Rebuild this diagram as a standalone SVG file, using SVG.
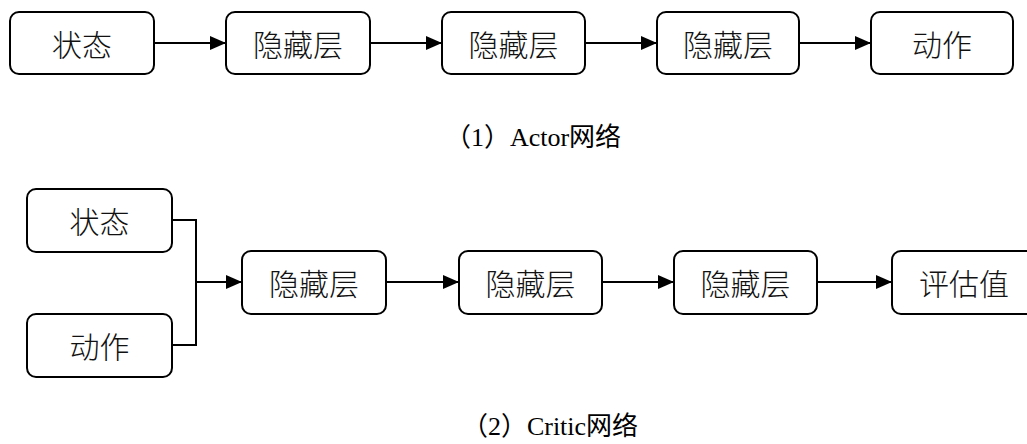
<svg xmlns="http://www.w3.org/2000/svg" width="1027" height="444" viewBox="0 0 1027 444">
<style>
.box{fill:#fff;stroke:#000;stroke-width:2}
.lbl{font-family:"Noto Sans CJK SC",sans-serif;font-size:30px;font-weight:300;fill:#111;text-anchor:middle;dominant-baseline:central}
.cap{font-family:"Liberation Serif","Noto Sans CJK SC",serif;font-size:26px;fill:#000;text-anchor:middle}
.ln{fill:none;stroke:#000;stroke-width:2}
</style>
<defs>
<marker id="ah" markerWidth="16" markerHeight="14" refX="16" refY="7" orient="auto" markerUnits="userSpaceOnUse">
<path d="M0,0 L16,7 L0,14 Z" fill="#000"/>
</marker>
</defs>
<rect width="1027" height="444" fill="#fff"/>
<g id="connectors">
<line class="ln" x1="154" y1="43" x2="226" y2="43" marker-end="url(#ah)"/>
<line class="ln" x1="370" y1="43" x2="442" y2="43" marker-end="url(#ah)"/>
<line class="ln" x1="585" y1="43" x2="657" y2="43" marker-end="url(#ah)"/>
<line class="ln" x1="799" y1="43" x2="871" y2="43" marker-end="url(#ah)"/>
<polyline class="ln" points="172,220 196,220 196,345 172,345"/>
<line class="ln" x1="196" y1="282" x2="242" y2="282" marker-end="url(#ah)"/>
<line class="ln" x1="386" y1="282" x2="459" y2="282" marker-end="url(#ah)"/>
<line class="ln" x1="602" y1="282" x2="674" y2="282" marker-end="url(#ah)"/>
<line class="ln" x1="817" y1="282" x2="892" y2="282" marker-end="url(#ah)"/>
</g>
<g id="a_state"><rect class="box" x="10" y="12" width="144" height="62" rx="9"/><text class="lbl" x="82" y="43">状态</text></g>
<g id="a_h1"><rect class="box" x="226" y="12" width="144" height="62" rx="9"/><text class="lbl" x="298" y="43">隐藏层</text></g>
<g id="a_h2"><rect class="box" x="442" y="12" width="143" height="62" rx="9"/><text class="lbl" x="513.5" y="43">隐藏层</text></g>
<g id="a_h3"><rect class="box" x="657" y="12" width="142" height="62" rx="9"/><text class="lbl" x="728" y="43">隐藏层</text></g>
<g id="a_action"><rect class="box" x="871" y="12" width="142" height="62" rx="9"/><text class="lbl" x="942" y="43">动作</text></g>
<g id="cap1"><text class="cap" x="533" y="146">（1）Actor网络</text></g>
<g id="c_state"><rect class="box" x="27" y="189" width="145" height="63" rx="9"/><text class="lbl" x="99.5" y="220">状态</text></g>
<g id="c_action"><rect class="box" x="27" y="314" width="145" height="63" rx="9"/><text class="lbl" x="99.5" y="345">动作</text></g>
<g id="c_h1"><rect class="box" x="242" y="251" width="144" height="63" rx="9"/><text class="lbl" x="314" y="282">隐藏层</text></g>
<g id="c_h2"><rect class="box" x="459" y="251" width="143" height="63" rx="9"/><text class="lbl" x="530.5" y="282">隐藏层</text></g>
<g id="c_h3"><rect class="box" x="674" y="251" width="143" height="63" rx="9"/><text class="lbl" x="745.5" y="282">隐藏层</text></g>
<g id="c_value"><rect class="box" x="892" y="251" width="144" height="63" rx="9"/><text class="lbl" x="964" y="282">评估值</text></g>
<g id="cap2"><text class="cap" x="550" y="435">（2）Critic网络</text></g>
</svg>
